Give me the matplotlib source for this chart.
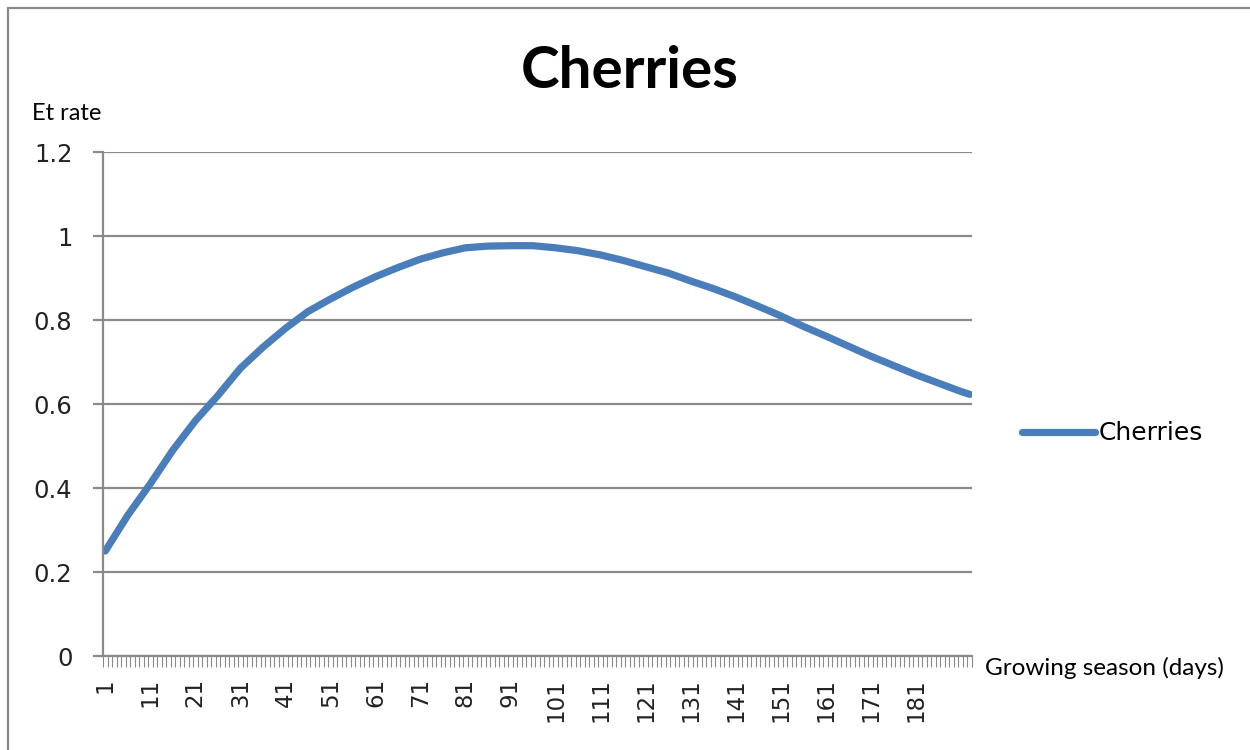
import matplotlib.pyplot as plt
from matplotlib.patches import Rectangle

# Et rate, by day of the growing season
days = [1, 6, 11, 16, 21, 26, 31, 36, 41, 46, 51, 56, 61, 66, 71, 76, 81, 86,
        91, 96, 101, 106, 111, 116, 121, 126, 131, 136, 141, 146, 151, 156,
        161, 166, 171, 176, 181, 186, 191, 193]
et_rate = [0.25, 0.335, 0.41, 0.49, 0.56, 0.62, 0.685, 0.735, 0.78, 0.82,
           0.85, 0.878, 0.903, 0.925, 0.945, 0.96, 0.972, 0.976, 0.977, 0.977,
           0.972, 0.965, 0.955, 0.942, 0.927, 0.912, 0.893, 0.875, 0.855,
           0.833, 0.81, 0.785, 0.762, 0.738, 0.714, 0.692, 0.67, 0.65, 0.63,
           0.623]
n_days = 193
label_days = list(range(1, 182, 10))
y_ticks = [0, 0.2, 0.4, 0.6, 0.8, 1, 1.2]
y_labels = ["0", "0.2", "0.4", "0.6", "0.8", "1", "1.2"]

grey = "#8a8a8a"
blue = "#4a7ebb"

fig = plt.figure(figsize=(12.5, 7.5), dpi=100)
ax = fig.add_axes([0.0824, 0.1253, 0.6952, 0.672])

ax.plot(days, et_rate, color=blue, lw=5.2, solid_capstyle="round", label="Cherries")

ax.set_xlim(0.5, n_days + 0.5)
ax.set_ylim(0, 1.2)
ax.set_yticks(y_ticks)
ax.set_yticklabels(y_labels)
ax.set_xticks(label_days)
ax.set_xticklabels([str(d) for d in label_days], rotation=90)
ax.set_xticks([d + 0.5 for d in range(0, n_days + 1)], minor=True)

ax.grid(axis="y", color=grey, lw=1.6)
ax.set_axisbelow(True)
for s in ["top", "right"]:
    ax.spines[s].set_visible(False)
for s in ["left", "bottom"]:
    ax.spines[s].set_color(grey)
    ax.spines[s].set_linewidth(1.6)

ax.tick_params(axis="y", direction="out", length=7, width=1.6, color=grey,
               pad=15, labelsize=17.5, labelcolor="#222222")
ax.tick_params(axis="x", which="major", length=0, pad=16, labelsize=16.5,
               labelcolor="#222222")
ax.tick_params(axis="x", which="minor", direction="out", length=8, width=0.8,
               color=grey)

ax.legend(loc="center left", bbox_to_anchor=(1.032, 0.442), frameon=False,
          fontsize=18, handlelength=2.9, handletextpad=0.15)

fig.text(0.504, 0.904, "Cherries", ha="center", va="center",
         fontsize=42, fontweight="bold", family="Lato")
fig.text(0.026, 0.848, "Et rate", ha="left", va="center", fontsize=17,
         family="Lato")
fig.text(0.788, 0.109, "Growing season (days)", ha="left", va="center",
         fontsize=17.5, family="Lato")

# outer chart frame
fig.patches.append(Rectangle((0.0065, -0.05), 1.1, 1.04, transform=fig.transFigure,
                             fill=False, edgecolor=grey, lw=1.6))

fig.savefig("out.png", dpi=100)
